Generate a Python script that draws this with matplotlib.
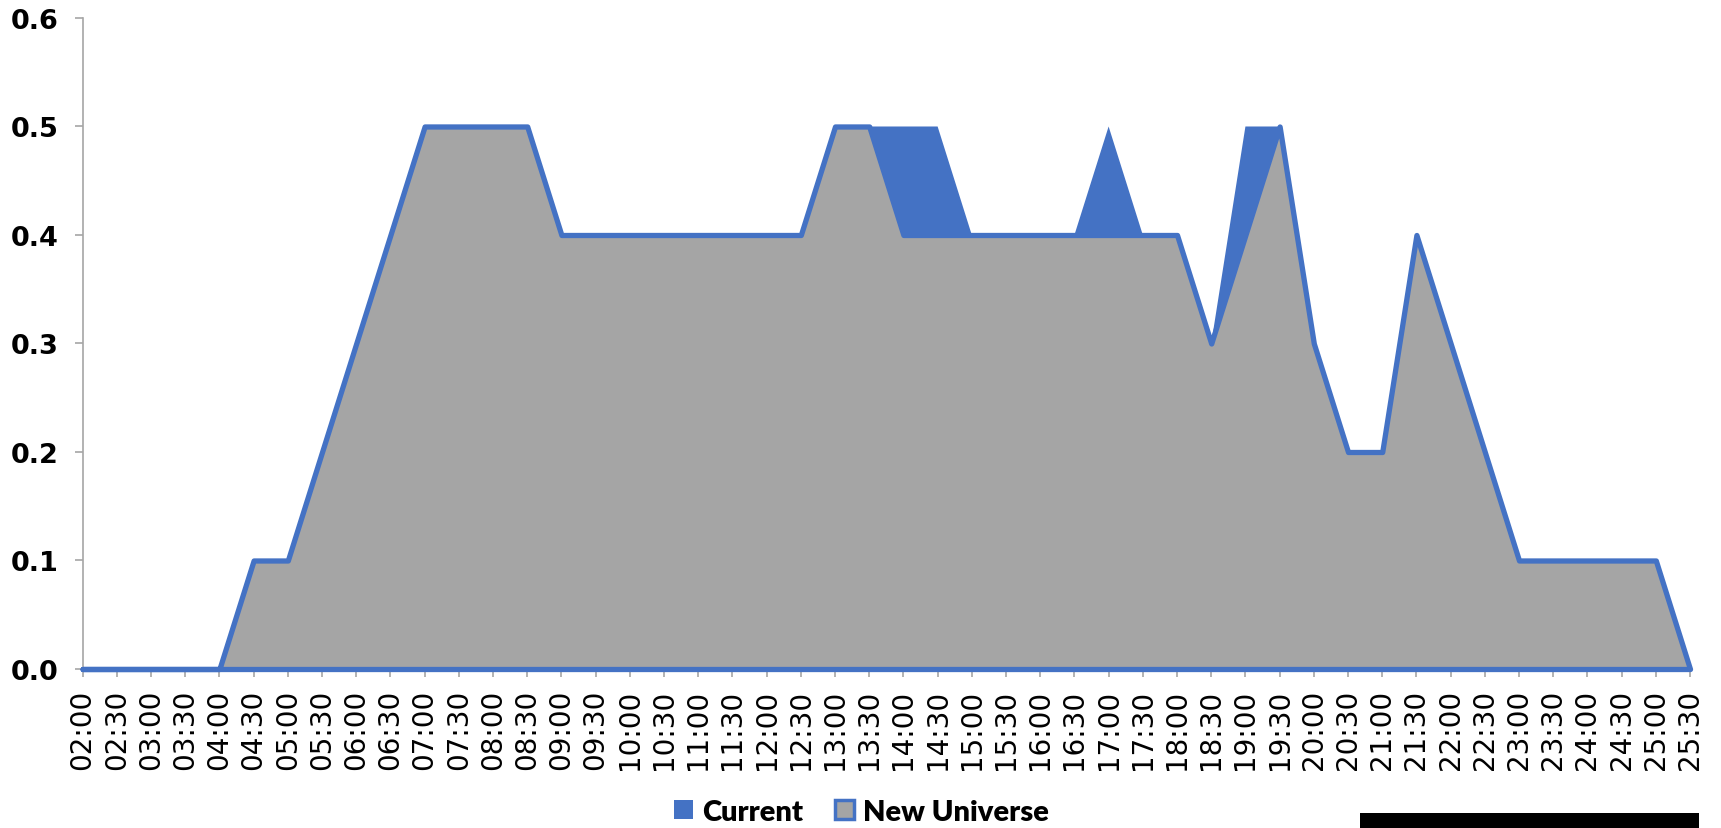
import matplotlib
matplotlib.use("Agg")
import matplotlib.pyplot as plt
from matplotlib.patches import Patch, Rectangle

# Half-hour slots from 02:00 to 25:30
times = ["02:00", "02:30", "03:00", "03:30", "04:00", "04:30", "05:00", "05:30",
         "06:00", "06:30", "07:00", "07:30", "08:00", "08:30", "09:00", "09:30",
         "10:00", "10:30", "11:00", "11:30", "12:00", "12:30", "13:00", "13:30",
         "14:00", "14:30", "15:00", "15:30", "16:00", "16:30", "17:00", "17:30",
         "18:00", "18:30", "19:00", "19:30", "20:00", "20:30", "21:00", "21:30",
         "22:00", "22:30", "23:00", "23:30", "24:00", "24:30", "25:00", "25:30"]

current = [0, 0, 0, 0, 0, 0.1, 0.1, 0.2,
           0.3, 0.4, 0.5, 0.5, 0.5, 0.5, 0.4, 0.4,
           0.4, 0.4, 0.4, 0.4, 0.4, 0.4, 0.5, 0.5,
           0.5, 0.5, 0.4, 0.4, 0.4, 0.4, 0.5, 0.4,
           0.4, 0.3, 0.5, 0.5, 0.3, 0.2, 0.2, 0.4,
           0.3, 0.2, 0.1, 0.1, 0.1, 0.1, 0.1, 0]

new_universe = [0, 0, 0, 0, 0, 0.1, 0.1, 0.2,
                0.3, 0.4, 0.5, 0.5, 0.5, 0.5, 0.4, 0.4,
                0.4, 0.4, 0.4, 0.4, 0.4, 0.4, 0.5, 0.5,
                0.4, 0.4, 0.4, 0.4, 0.4, 0.4, 0.4, 0.4,
                0.4, 0.3, 0.4, 0.5, 0.3, 0.2, 0.2, 0.4,
                0.3, 0.2, 0.1, 0.1, 0.1, 0.1, 0.1, 0]

y_ticks = [0.0, 0.1, 0.2, 0.3, 0.4, 0.5, 0.6]

BLUE = "#4472C4"
GRAY = "#A5A5A5"
AXIS = "#A6A6A6"

fig = plt.figure(figsize=(17.21, 8.29), dpi=100)
ax = fig.add_axes([0.048, 0.1918, 0.934, 0.7853])

x = list(range(len(times)))
ax.fill_between(x, current, 0, facecolor=BLUE, edgecolor="none", linewidth=0, zorder=2)
ax.fill_between(x, new_universe, 0, facecolor=GRAY, edgecolor=BLUE, linewidth=3.8,
                joinstyle="round", zorder=3, clip_on=False)

ax.set_xlim(0, len(times) - 1)
ax.set_ylim(0, 0.6)
ax.set_xticks(x)
ax.set_xticklabels(times, rotation=90, fontsize=20, family="DejaVu Sans")
ax.set_yticks(y_ticks)
ax.set_yticklabels([f"{v:.1f}" for v in y_ticks], fontsize=19.5,
                   fontweight="bold", family="DejaVu Sans")

for side in ("top", "right"):
    ax.spines[side].set_visible(False)
for side in ("left", "bottom"):
    ax.spines[side].set_color(AXIS)
    ax.spines[side].set_linewidth(1.2)
ax.tick_params(axis="both", direction="out", color=AXIS, width=1.2, length=6)
ax.tick_params(axis="y", pad=11)
ax.tick_params(axis="x", pad=8)

handles = [Patch(facecolor=BLUE, edgecolor="none"),
           Patch(facecolor=GRAY, edgecolor=BLUE, linewidth=2.5)]
fig.legend(handles, ["Current", "New Universe"], loc="center",
           bbox_to_anchor=(0.5006, 0.0193), ncol=2, frameon=False,
           prop={"family": "Lato", "weight": "heavy", "size": 21},
           handlelength=0.65, handleheight=0.65, handletextpad=0.3,
           columnspacing=1.1, borderpad=0, borderaxespad=0)

# Dark footer strip at the lower right
fig.patches.append(Rectangle((1360 / 1721, 0), 339 / 1721, 15 / 829,
                             transform=fig.transFigure, facecolor="black",
                             edgecolor="none"))

fig.savefig("out.png", dpi=100)
